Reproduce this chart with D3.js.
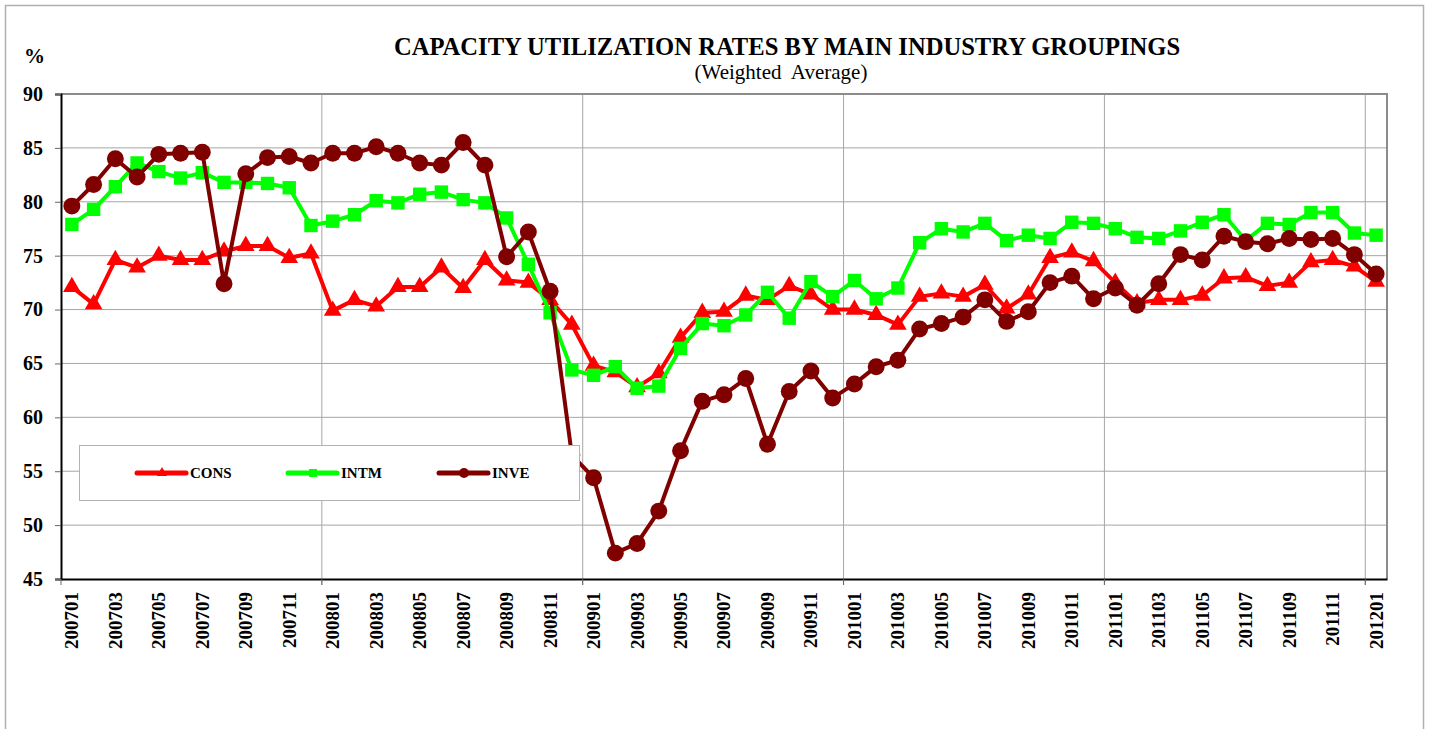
<!DOCTYPE html>
<html>
<head>
<meta charset="utf-8">
<script src="https://cdn.jsdelivr.net/npm/d3@7"></script>
<style>
  body { margin: 0; background: #fff; }
  svg { display: block; }
  text { font-family: "Liberation Serif", "Times New Roman", serif; }
</style>
</head>
<body>
<svg id="chart"></svg>
<script>
// months on the category axis
const months = [
  '200701','200702','200703','200704','200705','200706','200707','200708','200709','200710','200711','200712',
  '200801','200802','200803','200804','200805','200806','200807','200808','200809','200810','200811','200812',
  '200901','200902','200903','200904','200905','200906','200907','200908','200909','200910','200911','200912',
  '201001','201002','201003','201004','201005','201006','201007','201008','201009','201010','201011','201012',
  '201101','201102','201103','201104','201105','201106','201107','201108','201109','201110','201111','201112',
  '201201'
];

// consumer goods
const cons = [
  72.1,70.5,74.6,73.9,75.0,74.6,74.6,75.4,75.9,75.9,74.8,75.2,
  69.9,70.9,70.3,72.1,72.1,73.9,72.0,74.6,72.7,72.5,70.9,68.6,
  64.8,64.2,62.8,64.1,67.4,69.7,69.8,71.3,70.9,72.2,71.4,70.0,
  70.0,69.5,68.6,71.2,71.5,71.2,72.3,70.1,71.4,74.8,75.3,74.5,
  72.5,70.6,70.9,70.9,71.3,72.9,73.0,72.2,72.5,74.4,74.6,74.0,
  72.6
];

// intermediate goods
const intm = [
  77.9,79.3,81.4,83.6,82.8,82.2,82.7,81.8,81.8,81.7,81.3,77.8,
  78.2,78.8,80.1,79.9,80.7,80.9,80.2,79.9,78.5,74.2,69.7,64.4,
  63.9,64.7,62.7,62.9,66.4,68.7,68.5,69.5,71.6,69.2,72.6,71.2,
  72.7,71.0,72.0,76.2,77.5,77.2,78.0,76.4,76.9,76.6,78.1,78.0,
  77.5,76.7,76.6,77.3,78.1,78.8,76.4,78.0,77.9,79.0,79.0,77.1,
  76.9
];

// investment goods
const inve = [
  79.6,81.6,84.0,82.3,84.4,84.5,84.6,72.4,82.6,84.1,84.2,83.6,
  84.5,84.5,85.1,84.5,83.6,83.4,85.5,83.4,74.9,77.2,71.7,56.5,
  54.4,47.4,48.3,51.3,56.9,61.5,62.1,63.6,57.5,62.4,64.3,61.8,
  63.1,64.7,65.3,68.2,68.7,69.3,70.9,68.9,69.8,72.5,73.1,71.0,
  72.0,70.4,72.4,75.1,74.6,76.8,76.3,76.1,76.6,76.5,76.6,75.1,
  73.3
];

const yTicks = [45, 50, 55, 60, 65, 70, 75, 80, 85, 90];
const seriesNames = ['CONS', 'INTM', 'INVE'];

const width = 1433, height = 729;
const margin = { top: 94, right: 46, bottom: 150, left: 61 };

const svg = d3.select('#chart').attr('width', width).attr('height', height);

// outer frame of the sheet
svg.append('rect')
  .attr('x', 5.5).attr('y', 5.5)
  .attr('width', 1418).attr('height', 740)
  .attr('fill', 'none').attr('stroke', '#b0b0b0').attr('stroke-width', 1.5);

const x = d3.scaleBand()
  .domain(months)
  .range([margin.left, width - margin.right])
  .padding(0);

const y = d3.scaleLinear()
  .domain([45, 90])
  .range([height - margin.bottom, margin.top]);

const cx = d => x(d) + x.bandwidth() / 2;

// horizontal grid
svg.append('g')
  .selectAll('line')
  .data(yTicks.filter(v => v > 45 && v < 90))
  .enter().append('line')
  .attr('x1', margin.left).attr('x2', width - margin.right)
  .attr('y1', d => y(d)).attr('y2', d => y(d))
  .attr('stroke', '#a6a6a6').attr('stroke-width', 1);

// vertical grid, one per year boundary
const yearStarts = months.filter((m, i) => i > 0 && m.endsWith('01'));
svg.append('g')
  .selectAll('line')
  .data(yearStarts)
  .enter().append('line')
  .attr('x1', d => x(d)).attr('x2', d => x(d))
  .attr('y1', margin.top).attr('y2', height - margin.bottom + 6)
  .attr('stroke', '#a6a6a6').attr('stroke-width', 1);

// plot frame top/right
svg.append('path')
  .attr('d', `M${margin.left},${margin.top}H${width - margin.right}V${height - margin.bottom}`)
  .attr('fill', 'none').attr('stroke', '#8c8c8c').attr('stroke-width', 2);

// y axis
const yAxis = svg.append('g')
  .attr('transform', `translate(${margin.left},0)`)
  .call(d3.axisLeft(y).tickValues(yTicks).tickSize(6).tickPadding(12));
yAxis.select('.domain').attr('stroke', '#000').attr('stroke-width', 2);
yAxis.selectAll('.tick line').attr('stroke', '#666');
yAxis.selectAll('text')
  .attr('font-size', 20).attr('font-weight', 'bold').attr('fill', '#000');

// x axis: labels every second month, rotated
const xAxis = svg.append('g')
  .attr('transform', `translate(0,${height - margin.bottom})`)
  .call(d3.axisBottom(x).tickValues(months.filter((m, i) => i % 2 === 0)).tickSize(0).tickPadding(0));
xAxis.select('.domain').attr('stroke', '#000').attr('stroke-width', 2);
xAxis.selectAll('text')
  .attr('font-size', 19).attr('font-weight', 'bold').attr('fill', '#000')
  .attr('text-anchor', 'end')
  .attr('transform', 'rotate(-90)')
  .attr('x', -13).attr('y', 0).attr('dy', '0.34em');

// small tick marks at the year boundaries
svg.append('g')
  .selectAll('line')
  .data([months[0]].concat(yearStarts))
  .enter().append('line')
  .attr('x1', d => x(d)).attr('x2', d => x(d))
  .attr('y1', height - margin.bottom).attr('y2', height - margin.bottom + 6)
  .attr('stroke', '#666');

const series = [
  { name: 'CONS', values: cons, color: '#ff0000', symbol: d3.symbolTriangle, size: 135 },
  { name: 'INTM', values: intm, color: '#00ff00', symbol: d3.symbolSquare, size: 180 },
  { name: 'INVE', values: inve, color: '#800000', symbol: d3.symbolCircle, size: 225 }
];

const line = d3.line()
  .x((d, i) => cx(months[i]))
  .y(d => y(d));

series.forEach(s => {
  const g = svg.append('g');
  g.append('path')
    .datum(s.values)
    .attr('d', line)
    .attr('fill', 'none')
    .attr('stroke', s.color)
    .attr('stroke-width', 4)
    .attr('stroke-linejoin', 'round');
  g.selectAll('path.mark')
    .data(s.values)
    .enter().append('path')
    .attr('class', 'mark')
    .attr('d', d3.symbol().type(s.symbol).size(s.size))
    .attr('transform', (d, i) => `translate(${cx(months[i])},${y(d)})`)
    .attr('fill', s.color);
});

// legend box, sits on top of the lines
const legend = svg.append('g');
legend.append('rect')
  .attr('x', 79.5).attr('y', 445.5)
  .attr('width', 500).attr('height', 55)
  .attr('fill', '#fff').attr('stroke', '#b3b3b3').attr('stroke-width', 1);

const legendX = [137, 288, 439];
series.forEach((s, i) => {
  const lg = legend.append('g').attr('transform', `translate(${legendX[i]},473)`);
  lg.append('line')
    .attr('x1', 0).attr('x2', 49)
    .attr('stroke', s.color).attr('stroke-width', 5).attr('stroke-linecap', 'round');
  lg.append('path')
    .attr('d', d3.symbol().type(s.symbol).size(s.size * 0.35))
    .attr('transform', 'translate(25,0)')
    .attr('fill', s.color);
  lg.append('text')
    .attr('x', 53).attr('y', 0).attr('dy', '0.35em')
    .attr('font-size', 15).attr('font-weight', 'bold')
    .text(seriesNames[i]);
});

// titles
svg.append('text')
  .attr('x', 787).attr('y', 55)
  .attr('text-anchor', 'middle')
  .attr('font-size', 24.6).attr('font-weight', 'bold')
  .text('CAPACITY UTILIZATION RATES BY MAIN INDUSTRY GROUPINGS');

svg.append('text')
  .attr('x', 781).attr('y', 79)
  .attr('text-anchor', 'middle')
  .attr('font-size', 21)
  .style('white-space', 'pre')
  .text('(Weighted  Average)');

svg.append('text')
  .attr('x', 24).attr('y', 63)
  .attr('font-size', 21).attr('font-weight', 'bold')
  .text('%');
</script>
</body>
</html>
